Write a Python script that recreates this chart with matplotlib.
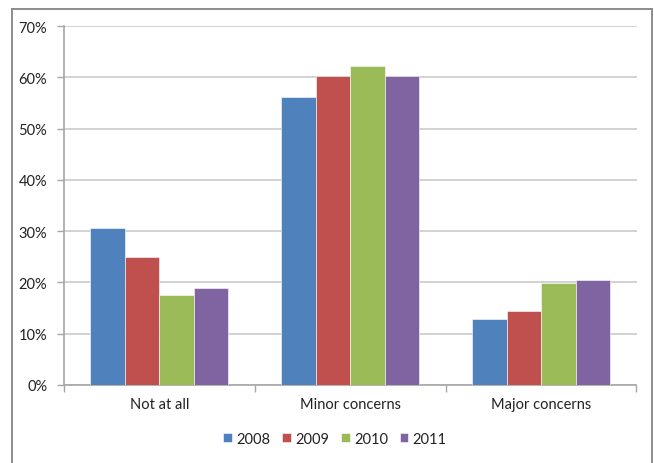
import matplotlib
matplotlib.use("Agg")
import matplotlib.pyplot as plt
from matplotlib.lines import Line2D
from matplotlib.ticker import FuncFormatter, MultipleLocator
import numpy as np

categories = ["Not at all", "Minor concerns", "Major concerns"]
years = ["2008", "2009", "2010", "2011"]
values_2008 = [30.7, 56.1, 12.9]
values_2009 = [25.0, 60.2, 14.4]
values_2010 = [17.6, 62.2, 19.9]
values_2011 = [18.9, 60.2, 20.4]
series = [values_2008, values_2009, values_2010, values_2011]
colors = ["#4F81BD", "#C0504D", "#9BBB59", "#8064A2"]

plt.rcParams["font.family"] = ["Lato", "DejaVu Sans"]

W, H = 654, 464
fig = plt.figure(figsize=(W / 100, H / 100), dpi=100)
ax = fig.add_axes([64 / W, 1 - 386 / H, (636.5 - 64) / W, (386 - 27) / H])

x = np.arange(len(categories))
bw = 0.181
for i, (vals, col, yr) in enumerate(zip(series, colors, years)):
    ax.bar(x + (i - 1.5) * bw, vals, width=bw, color=col, label=yr,
           edgecolor="white", linewidth=0.4, zorder=3)

ax.set_xlim(-0.5, 2.5)
ax.set_ylim(0, 70)
ax.yaxis.set_major_locator(MultipleLocator(10))
ax.yaxis.set_major_formatter(FuncFormatter(lambda v, p: f"{v:.0f}%"))
ax.yaxis.grid(True, color="#cfcfcf", linewidth=1.3, zorder=0)
ax.set_axisbelow(True)

ax.set_xticks(x)
ax.set_xticklabels(categories)
ax.set_xticks([-0.5, 0.5, 1.5, 2.5], minor=True)
ax.tick_params(axis="x", which="major", length=0, pad=9, labelsize=10.5, colors="#222222")
ax.tick_params(axis="x", which="minor", length=5, width=1, color="#a6a6a6", direction="out")
ax.tick_params(axis="y", length=5, width=1, color="#a6a6a6", pad=7, labelsize=10.5,
               labelcolor="#222222")

for s in ["top", "right"]:
    ax.spines[s].set_visible(False)
for s in ["left", "bottom"]:
    ax.spines[s].set_color("#a6a6a6")
    ax.spines[s].set_linewidth(1.2)

leg = fig.legend(loc="center", bbox_to_anchor=(335 / W, 1 - 440 / H), ncol=4,
                 frameon=False, handlelength=0.6, handleheight=0.6,
                 handletextpad=0.3, columnspacing=0.8, fontsize=10.5)
for t in leg.get_texts():
    t.set_color("#222222")

# outer chart frame
fc = "#8c8c8c"
fig.add_artist(Line2D([11.5 / W, 11.5 / W], [0, 1 - 9.5 / H], transform=fig.transFigure,
                      color=fc, linewidth=1.4))
fig.add_artist(Line2D([11.5 / W, 652 / W], [1 - 9.5 / H, 1 - 9.5 / H], transform=fig.transFigure,
                      color=fc, linewidth=1.4))
fig.add_artist(Line2D([652 / W, 652 / W], [0, 1 - 9.5 / H], transform=fig.transFigure,
                      color=fc, linewidth=1.4))

fig.savefig("out.png", dpi=100)
